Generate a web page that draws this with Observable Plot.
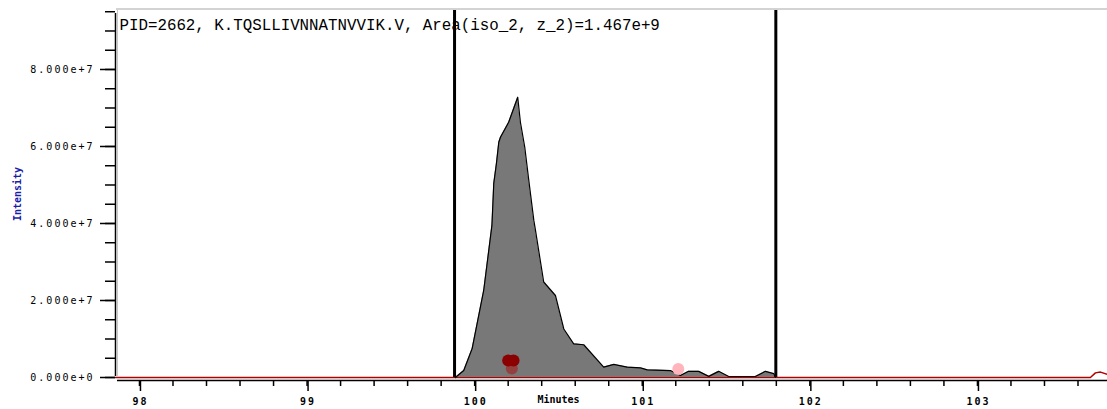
<!DOCTYPE html>
<html><head><meta charset="utf-8">
<script src="https://cdn.jsdelivr.net/npm/d3@7"></script>
<script src="https://cdn.jsdelivr.net/npm/@observablehq/plot@0.6"></script>
<style>
body{margin:0;background:#fff}
svg{display:block}
.xic g[aria-label="y-axis tick label"] text{letter-spacing:2px}
.xic g[aria-label="x-axis tick label"] text{letter-spacing:2px}
.xic g[aria-label="x-label"] text{letter-spacing:2px}
.xic g[aria-label="y-label"] text{letter-spacing:1px}
</style>
</head><body><div id="chart"></div>
<script>
const title = "PID=2662, K.TQSLLIVNNATNVVIK.V, Area(iso_2, z_2)=1.467e+9";
const xLabel = "Minutes";
const yLabel = "Intensity";

// full extracted ion chromatogram (minutes, intensity)
const traceTime = [97.857, 99.885, 101.795, 103.674, 103.704, 103.734, 103.776];
const traceIntensity = [0, 0, 0, 0, 1.2e6, 1.4e6, 8e5];

// integrated peak region
const peakTime = [99.885, 99.935, 99.985, 100.054, 100.103, 100.114, 100.13, 100.144, 100.154, 100.203,
  100.257, 100.273, 100.299, 100.323, 100.353, 100.363, 100.412, 100.482, 100.532, 100.591, 100.651,
  100.77, 100.83, 100.91, 100.99, 101.03, 101.168, 101.228, 101.277, 101.337, 101.397, 101.456,
  101.516, 101.675, 101.735, 101.785, 101.795];
const peakIntensity = [0, 1.8e6, 7.5e6, 2.26e7, 3.95e7, 5.04e7, 5.56e7, 6.11e7, 6.24e7, 6.63e7,
  7.28e7, 6.63e7, 5.98e7, 5.12e7, 4.08e7, 3.82e7, 2.48e7, 2.13e7, 1.26e7, 8.75e6, 8.5e6,
  2.7e6, 3.4e6, 2.7e6, 2.5e6, 2.0e6, 1.8e6, 5e5, 1.6e6, 1.6e6, 3e5, 1.6e6,
  2.6e5, 2.6e5, 1.6e6, 1.0e6, 0];

const boundaries = [99.88, 101.797];

// MS/MS identification markers
const markerTime = [100.222, 100.2, 100.232, 101.215];
const markerIntensity = [2.34e6, 4.4e6, 4.4e6, 2.2e6];
const markerColor = ["#94403f", "#8b0000", "#8b0000", "#ffb5bb"];

const xTicks = [98, 99, 100, 101, 102, 103];
const xMinorTicks = d3.range(98, 103.7, 0.2);
const yTicks = [0, 2e7, 4e7, 6e7, 8e7];
const yMinorTicks = d3.range(0, 9.6e7, 5e6);

const xDomain = [97.857, 103.776];
const yDomain = [0, 9.532e7];

const trace = traceTime.map((t, i) => ({t, v: traceIntensity[i]}));
const peak = peakTime.map((t, i) => ({t, v: peakIntensity[i]}));
const markers = markerTime.map((t, i) => ({t, v: markerIntensity[i], c: markerColor[i]}));

const tickFont = "DejaVu Sans Mono";

const chart = Plot.plot({
  width: 1107,
  height: 409,
  marginLeft: 115,
  marginRight: 0,
  marginTop: 10,
  marginBottom: 32,
  className: "xic",
  style: {background: "#fff", color: "#000", overflow: "visible"},
  x: {domain: xDomain},
  y: {domain: yDomain},
  marks: [
    Plot.lineY(trace, {x: "t", y: "v", stroke: "#b00000", strokeWidth: 1.5}),
    Plot.areaY(peak, {x: "t", y: "v", fill: "#787878"}),
    Plot.lineY(peak, {x: "t", y: "v", stroke: "#000", strokeWidth: 1.2}),
    Plot.ruleX(boundaries, {y1: 0, y2: yDomain[1], stroke: "#000", strokeWidth: 3}),
    Plot.dot(markers, {x: "t", y: "v", r: 6, fill: "c", stroke: "none"}),
    // frame lines
    Plot.ruleY([yDomain[1]], {x1: xDomain[0], x2: xDomain[1], dy: -1.5, insetLeft: 1, stroke: "#a8a8a8", strokeWidth: 1.2}),
    Plot.ruleX([xDomain[0]], {y1: 0, y2: yDomain[1], dx: 2, stroke: "#c8c8c8", strokeWidth: 1}),
    Plot.ruleX([xDomain[0]], {y1: 0, y2: yDomain[1], insetBottom: -3, insetTop: -1, stroke: "#000", strokeWidth: 1.5}),
    Plot.ruleY([0], {x1: xDomain[0], x2: xDomain[1], dy: 3, insetLeft: 2, stroke: "#000", strokeWidth: 1.5}),
    // y axis
    Plot.axisY({ticks: yMinorTicks, tickSize: 10, tickFormat: () => "", label: null, strokeWidth: 1.5}),
    Plot.axisY({ticks: yTicks, tickSize: 15, tickPadding: 6, label: null, strokeWidth: 1.5,
      tickFormat: d => d.toExponential(3), fontFamily: tickFont, fontSize: 10}),
    // x axis
    Plot.axisX({ticks: xMinorTicks, tickSize: 6, dy: 3, tickFormat: () => "", label: null, strokeWidth: 1.5}),
    Plot.axisX({ticks: xTicks, tickSize: 11, dy: 3, tickPadding: 6, label: null, strokeWidth: 1.5,
      tickFormat: d => String(d), fontFamily: tickFont, fontSize: 10, fontWeight: "bold", dx: 1}),
    // labels
    Plot.text([xLabel], {ariaLabel: "x-label", frameAnchor: "bottom", textAnchor: "middle", dx: -53, dy: 25,
      fontFamily: tickFont, fontSize: 10, fontWeight: "bold", fill: "#000"}),
    Plot.text([yLabel], {ariaLabel: "y-label", frameAnchor: "left", textAnchor: "middle", dx: -98, rotate: -90,
      fontFamily: tickFont, fontSize: 10, fontWeight: "bold", fill: "#1c1caa"}),
    Plot.text([title], {ariaLabel: "title", frameAnchor: "top-left", dx: 4, dy: 14, textAnchor: "start",
      lineAnchor: "middle", fontFamily: "Liberation Mono", fontSize: 15.8, fill: "#000"})
  ]
});
document.getElementById("chart").appendChild(chart);
</script>
</body></html>
